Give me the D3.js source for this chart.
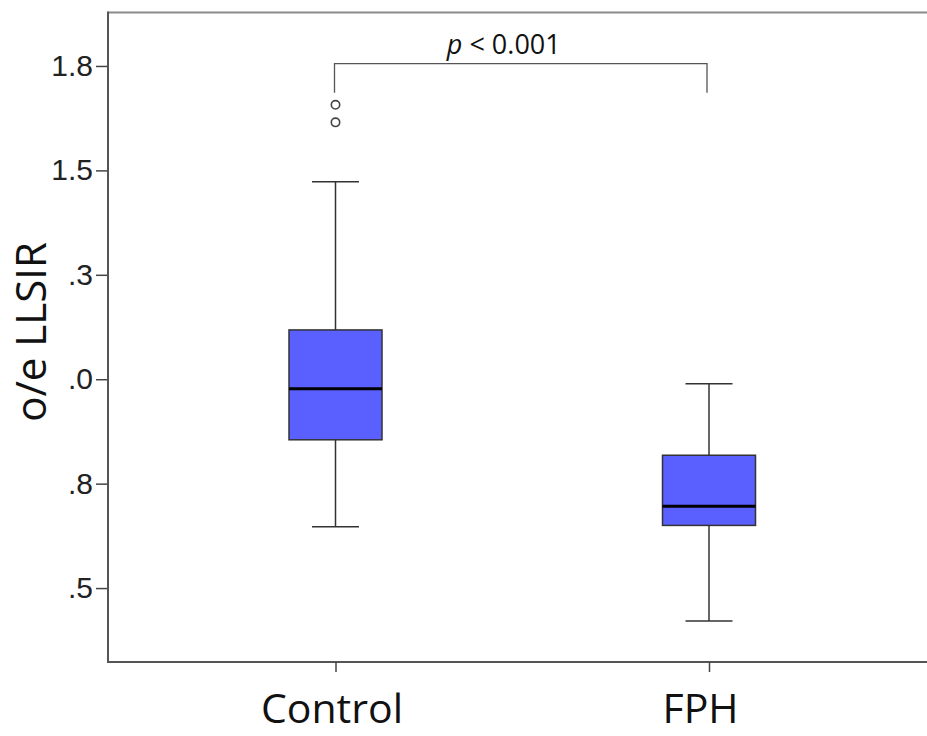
<html>
    <head>
        <script src="https://d3js.org/d3.v7.min.js"></script>
        <style>
            body { margin: 0; background: #fff; }
            .tick-label { font-family: "Liberation Sans", Arial, sans-serif; font-size: 30px; fill: #222; }
            .cat-label { font-family: "Open Sans", sans-serif; font-size: 41px; fill: #111; }
            .axis-title { font-family: "Open Sans", sans-serif; font-size: 42px; fill: #111; }
            .p-label { font-family: "Open Sans", sans-serif; font-size: 27px; fill: #111; }
        </style>
    </head>
    <body>
        <script>
            // data
            var groups = ["Control", "FPH"];
            var whiskerLow = [0.647, 0.421];
            var q1 = [0.855, 0.650];
            var median = [0.977, 0.696];
            var q3 = [1.118, 0.818];
            var whiskerHigh = [1.473, 0.989];
            var outliers = [[1.657, 1.615], []];
            var tickValues = [0.5, 0.75, 1.0, 1.25, 1.5, 1.75];
            var tickLabels = [".5", ".8", ".0", ".3", "1.5", "1.8"];
            var pText = "p < 0.001";

            var width = 927, height = 736;
            var plot = {left: 108, top: 12.5, right: 927, bottom: 662};

            var svg = d3.select("body").append("svg")
                .attr("width", width)
                .attr("height", height);

            var y = d3.scaleLinear()
                .domain([0.323, 1.878])
                .range([plot.bottom, plot.top]);

            var x = d3.scalePoint()
                .domain(groups)
                .range([335.5, 709]);

            var boxW = 93, capW = 47;

            var boxes = groups.map(function (g, i) {
                return {
                    name: g, lo: whiskerLow[i], q1: q1[i], med: median[i],
                    q3: q3[i], hi: whiskerHigh[i], out: outliers[i]
                };
            });

            // frame
            svg.append("line")
                .attr("x1", plot.left).attr("x2", plot.right)
                .attr("y1", plot.top).attr("y2", plot.top)
                .attr("stroke", "#8a8a8a").attr("stroke-width", 2);
            svg.append("line")
                .attr("x1", plot.left).attr("x2", plot.right)
                .attr("y1", plot.bottom).attr("y2", plot.bottom)
                .attr("stroke", "#555").attr("stroke-width", 2);

            // y axis
            var yAxis = d3.axisLeft(y)
                .tickValues(tickValues)
                .tickSize(12)
                .tickPadding(3)
                .tickFormat(function (d, i) { return tickLabels[i]; });
            var gy = svg.append("g")
                .attr("transform", "translate(" + plot.left + ",0)")
                .call(yAxis);
            gy.select(".domain").remove();
            gy.selectAll(".tick line").attr("stroke", "#444").attr("stroke-width", 1.5);
            gy.selectAll(".tick text").attr("class", "tick-label").attr("font-size", null).attr("font-family", null);
            svg.append("line")
                .attr("x1", plot.left).attr("x2", plot.left)
                .attr("y1", plot.top - 1).attr("y2", plot.bottom + 1)
                .attr("stroke", "#555").attr("stroke-width", 2);

            // x axis
            var xAxis = d3.axisBottom(x).tickSize(10).tickPadding(22);
            var gx = svg.append("g")
                .attr("transform", "translate(0," + plot.bottom + ")")
                .call(xAxis);
            gx.select(".domain").remove();
            gx.selectAll(".tick line").attr("stroke", "#444").attr("stroke-width", 1.5);
            gx.selectAll(".tick text")
                .attr("class", "cat-label")
                .attr("font-size", null).attr("font-family", null)
                .attr("dx", function (d, i) { return i === 0 ? -4 : -9; });

            // y title
            svg.append("text")
                .attr("class", "axis-title")
                .attr("text-anchor", "middle")
                .attr("transform", "translate(46,332) rotate(-90)")
                .text("o/e LLSIR");

            // boxes
            var g = svg.selectAll(".box")
                .data(boxes)
                .enter().append("g")
                .attr("class", "box");

            g.append("line")
                .attr("x1", function (d) { return x(d.name); })
                .attr("x2", function (d) { return x(d.name); })
                .attr("y1", function (d) { return y(d.lo); })
                .attr("y2", function (d) { return y(d.hi); })
                .attr("stroke", "#333").attr("stroke-width", 1.5);

            g.selectAll(".cap")
                .data(function (d) { return [{name: d.name, v: d.lo}, {name: d.name, v: d.hi}]; })
                .enter().append("line")
                .attr("x1", function (d) { return x(d.name) - capW / 2; })
                .attr("x2", function (d) { return x(d.name) + capW / 2; })
                .attr("y1", function (d) { return y(d.v); })
                .attr("y2", function (d) { return y(d.v); })
                .attr("stroke", "#333").attr("stroke-width", 1.5);

            g.append("rect")
                .attr("x", function (d) { return x(d.name) - boxW / 2; })
                .attr("width", boxW)
                .attr("y", function (d) { return y(d.q3); })
                .attr("height", function (d) { return y(d.q1) - y(d.q3); })
                .attr("fill", "#5a5fff")
                .attr("stroke", "#333").attr("stroke-width", 1.5);

            g.append("line")
                .attr("x1", function (d) { return x(d.name) - boxW / 2; })
                .attr("x2", function (d) { return x(d.name) + boxW / 2; })
                .attr("y1", function (d) { return y(d.med); })
                .attr("y2", function (d) { return y(d.med); })
                .attr("stroke", "#000").attr("stroke-width", 3);

            g.selectAll(".outlier")
                .data(function (d) { return d.out.map(function (v) { return {name: d.name, v: v}; }); })
                .enter().append("circle")
                .attr("class", "outlier")
                .attr("cx", function (d) { return x(d.name); })
                .attr("cy", function (d) { return y(d.v); })
                .attr("r", 4.2)
                .attr("fill", "none")
                .attr("stroke", "#444").attr("stroke-width", 1.6);

            // significance bracket
            var bracketTop = 63.7, bracketFoot = 92.7;
            var bx1 = x(groups[0]) - 1, bx2 = x(groups[1]) - 2;
            svg.append("path")
                .attr("d", "M" + bx1 + "," + bracketFoot + "V" + bracketTop + "H" + bx2 + "V" + bracketFoot)
                .attr("fill", "none")
                .attr("stroke", "#555").attr("stroke-width", 1.3);

            var pt = svg.append("text")
                .attr("class", "p-label")
                .attr("text-anchor", "middle")
                .attr("x", (bx1 + bx2) / 2 - 17)
                .attr("y", 54);
            pt.append("tspan").attr("font-style", "italic").text(pText.slice(0, 1));
            pt.append("tspan").text(pText.slice(1));
        </script>
    </body>
</html>
